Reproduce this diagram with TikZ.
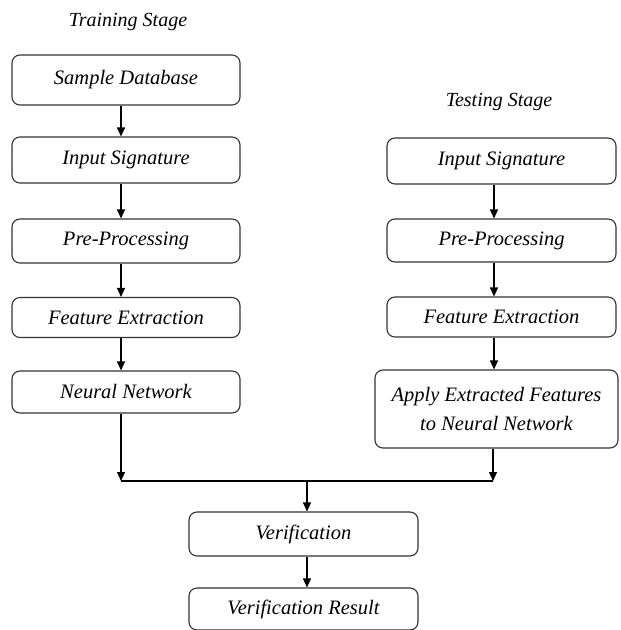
\documentclass[tikz,border=0pt]{standalone}
\usepackage{fontspec}
\setmainfont{Liberation Serif}
\usetikzlibrary{arrows.meta}
\begin{document}
\begin{tikzpicture}[x=1pt,y=-1pt,
  box/.style={draw=black!80, line width=1.1pt, rounded corners=8pt, inner sep=0pt,
    font=\fontsize{20.5}{29}\selectfont\itshape, align=center},
  arr/.style={draw=black, line width=1.1pt, -{Triangle[width=8pt,length=9pt]}},
  lbl/.style={font=\fontsize{20}{24}\selectfont\itshape, inner sep=0pt}]
\useasboundingbox (0,0) rectangle (621,630);
% labels
\node[lbl] (tr) at (128,22) {Training Stage};
\node[lbl] (te) at (499,102) {Testing Stage};
% left column
\node[box, minimum width=228pt, minimum height=50pt] (sd) at (126,80) {Sample Database};
\node[box, minimum width=228pt, minimum height=46pt] (is1) at (126,160) {Input Signature};
\node[box, minimum width=228pt, minimum height=44pt] (pp1) at (126,241) {Pre-Processing};
\node[box, minimum width=228pt, minimum height=40pt] (fe1) at (126,317.5) {Feature Extraction};
\node[box, minimum width=228pt, minimum height=42pt] (nn) at (126,392) {Neural Network};
% right column
\node[box, minimum width=229pt, minimum height=46pt] (is2) at (501.5,161) {Input Signature};
\node[box, minimum width=229pt, minimum height=43pt] (pp2) at (501.5,240.5) {Pre-Processing};
\node[box, minimum width=229pt, minimum height=40pt] (fe2) at (501.5,317) {Feature Extraction};
\node[box, minimum width=243pt, minimum height=78pt] (ap) at (496.5,409) {Apply Extracted Features\\to Neural Network};
% bottom
\node[box, minimum width=229pt, minimum height=44pt] (ver) at (303.5,534) {Verification};
\node[box, minimum width=229pt, minimum height=42pt] (res) at (303.5,609) {Verification Result};
% junctions
\coordinate (jL) at (121,481);
\coordinate (jR) at (493,481);
\coordinate (jM) at (307,481);
% connectors
\draw[arr] ([xshift=-5pt]sd.south) -- ([xshift=-5pt]is1.north);
\draw[arr] ([xshift=-5pt]is1.south) -- ([xshift=-5pt]pp1.north);
\draw[arr] ([xshift=-5pt]pp1.south) -- ([xshift=-5pt]fe1.north);
\draw[arr] ([xshift=-5pt]fe1.south) -- ([xshift=-5pt]nn.north);
\draw[arr] ([xshift=-7.5pt]is2.south) -- ([xshift=-7.5pt]pp2.north);
\draw[arr] ([xshift=-7.5pt]pp2.south) -- ([xshift=-7.5pt]fe2.north);
\draw[arr] ([xshift=-7.5pt]fe2.south) -- ([xshift=-2.5pt]ap.north);
\draw[arr] ([xshift=-5pt]nn.south) -- (jL);
\draw[arr] ([xshift=-3.5pt]ap.south) -- (jR);
\draw[line width=1.1pt] (jL) -- (jR);
\draw[arr] (jM) -- (ver.north -| jM);
\draw[arr] ([xshift=3.5pt]ver.south) -- ([xshift=3.5pt]res.north);
\end{tikzpicture}
\end{document}
